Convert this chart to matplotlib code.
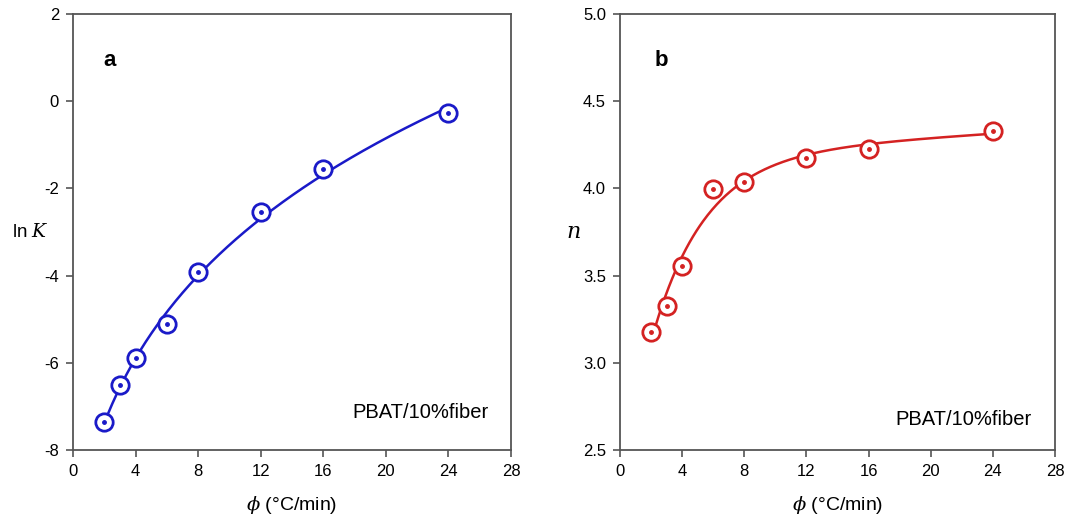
import numpy as np
import matplotlib
matplotlib.use("Agg")
import matplotlib.pyplot as plt

plt.rcParams['font.family'] = ['Liberation Sans', 'DejaVu Sans']
plt.rcParams['mathtext.fontset'] = 'dejavuserif'
plt.rcParams['axes.unicode_minus'] = False

phi = [2, 3, 4, 6, 8, 12, 16, 24]
lnK = [-7.35, -6.52, -5.90, -5.12, -3.92, -2.55, -1.56, -0.27]
n_vals = [3.177, 3.326, 3.555, 3.997, 4.037, 4.174, 4.226, 4.329]

blue = '#1a1ac8'
red = '#d42222'
spine_col = '#555555'

x = np.array(phi, dtype=float)
xs = np.linspace(2, 24, 300)

# fit for panel a: quadratic in ln(phi)
ca = np.polyfit(np.log(x), np.array(lnK), 2)
ya = np.polyval(ca, np.log(xs))

# fit for panel b: a - b*exp(-c*phi) + d*phi
yb_data = np.array(n_vals)
best = None
for c in np.linspace(0.05, 1.5, 600):
    A = np.column_stack([np.ones_like(x), -np.exp(-c * x), x])
    coef, *_ = np.linalg.lstsq(A, yb_data, rcond=None)
    r = np.sum((A @ coef - yb_data) ** 2)
    if best is None or r < best[0]:
        best = (r, c, coef)
_, cb, coefb = best
xsb = np.linspace(2.05, 24, 300)
yb = coefb[0] - coefb[1] * np.exp(-cb * xsb) + coefb[2] * xsb

fig = plt.figure(figsize=(10.67, 5.22), dpi=100)
W, H = 1067, 522
axa = fig.add_axes([73 / W, 1 - 450 / H, 438 / W, 436 / H])
axb = fig.add_axes([620 / W, 1 - 450 / H, 435 / W, 436 / H])

def style(ax):
    for s in ax.spines.values():
        s.set_color(spine_col)
        s.set_linewidth(1.3)
    ax.tick_params(direction='out', length=5, width=1.2, color=spine_col,
                   labelsize=12, pad=5)
    ax.set_xlim(0, 28)
    ax.set_xticks(range(0, 29, 4))
    ax.set_xlabel(r'$\phi$ (°C/min)', fontsize=14, va='center')
    ax.xaxis.set_label_coords(0.5, -0.126)

for ax, xf, yd, yfit, col in [(axa, xs, lnK, ya, blue), (axb, xsb, n_vals, yb, red)]:
    style(ax)
    ax.plot(xf, yfit, color=col, lw=1.8, zorder=2)
    ax.plot(phi, yd, linestyle='none', marker='o', ms=12.5, mfc='white',
            mec=col, mew=2, zorder=3)
    ax.plot(phi, yd, linestyle='none', marker='o', ms=2.5, mfc=col,
            mec=col, zorder=4)

axa.set_ylim(-8, 2)
axa.set_yticks(range(-8, 3, 2))
axa.set_ylabel(r'ln $K$', fontsize=13.5, rotation=0, va='center', ha='center')
axa.yaxis.set_label_coords(-0.098, 0.5)
axa.text(0.07, 0.88, 'a', transform=axa.transAxes, fontsize=16,
         fontweight='bold')
axa.text(0.637, 0.087, 'PBAT/10%fiber', transform=axa.transAxes,
         fontsize=14.5, va='center')

axb.set_ylim(2.5, 5.0)
axb.set_yticks(np.arange(2.5, 5.01, 0.5))
axb.set_yticklabels([f'{v:.1f}' for v in np.arange(2.5, 5.01, 0.5)])
axb.set_ylabel(r'$n$', fontsize=16, rotation=0, va='center', ha='center')
axb.yaxis.set_label_coords(-0.106, 0.5)
axb.text(0.08, 0.88, 'b', transform=axb.transAxes, fontsize=16,
         fontweight='bold')
axb.text(0.634, 0.069, 'PBAT/10%fiber', transform=axb.transAxes,
         fontsize=14.5, va='center')

fig.savefig('out.png', dpi=100)
